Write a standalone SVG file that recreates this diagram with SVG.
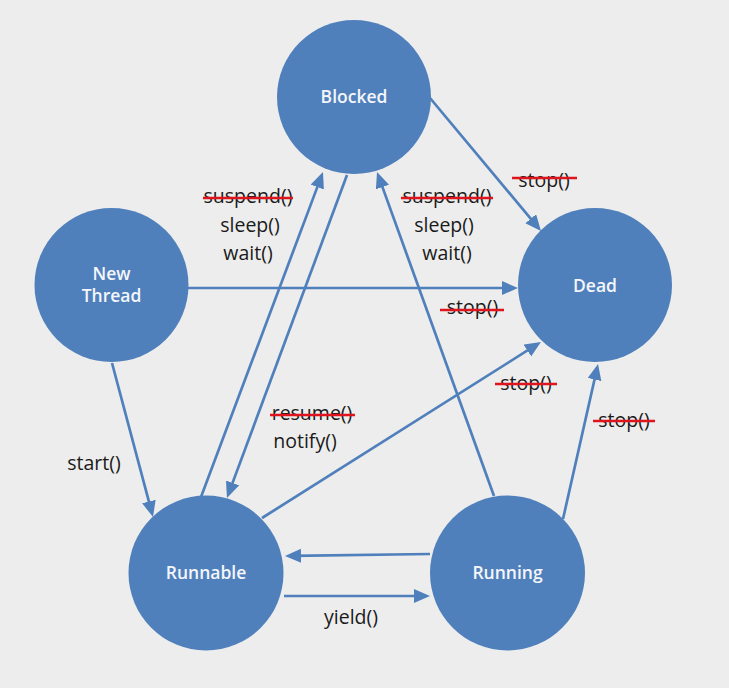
<svg xmlns="http://www.w3.org/2000/svg" width="729" height="688" viewBox="0 0 729 688">
<style>
.node{fill:#5080bc}
.nl{font-family:"Open Sans","Noto Sans",sans-serif;font-weight:600;font-size:17.5px;fill:#f4f6fa;text-anchor:middle}
.edge{stroke:#5080bc;stroke-width:2.7;fill:none;marker-end:url(#ah)}
.lb{font-family:"Open Sans","Noto Sans",sans-serif;font-size:19.5px;fill:#1a1a1a;text-anchor:middle}
.st{stroke:#e0141c;stroke-width:2.6}
</style>
<defs>
<marker id="ah" markerUnits="userSpaceOnUse" markerWidth="17" markerHeight="15" refX="9" refY="7" orient="auto">
<path d="M0,0 L16,7 L0,14 z" fill="#5080bc"/>
</marker>
</defs>
<rect width="729" height="688" fill="#ededed"/>
<g id="connectors">
<line class="edge" x1="430" y1="98" x2="536.5" y2="225.6"/>
<line class="edge" x1="188" y1="288" x2="511" y2="288"/>
<line class="edge" x1="262" y1="518" x2="535" y2="345.7"/>
<line class="edge" x1="563" y1="519" x2="596.5" y2="370.8"/>
<line class="edge" x1="112" y1="363" x2="151.2" y2="510.2"/>
<line class="edge" x1="201" y1="497" x2="320.5" y2="178.6"/>
<line class="edge" x1="347" y1="175" x2="229.4" y2="491.4"/>
<line class="edge" x1="494" y1="496" x2="379.4" y2="178.6"/>
<line class="edge" x1="430" y1="554" x2="292" y2="555.9"/>
<line class="edge" x1="284" y1="596" x2="423" y2="596"/>
</g>
<g id="node-blocked"><circle class="node" cx="354" cy="97" r="77"/><text class="nl" x="354" y="103">Blocked</text></g>
<g id="node-newthread"><circle class="node" cx="111.5" cy="285" r="77"/><text class="nl" x="111.5" y="280">New</text><text class="nl" x="111.5" y="302">Thread</text></g>
<g id="node-dead"><circle class="node" cx="595" cy="285" r="77"/><text class="nl" x="595" y="292">Dead</text></g>
<g id="node-runnable"><circle class="node" cx="206" cy="573" r="77.5"/><text class="nl" x="206" y="579">Runnable</text></g>
<g id="node-running"><circle class="node" cx="507.5" cy="573" r="77.5"/><text class="nl" x="507.5" y="579">Running</text></g>
<g id="labels">
<text class="lb" x="248" y="203">suspend()</text><line class="st" x1="203" y1="198" x2="293" y2="198"/>
<text class="lb" x="250" y="232">sleep()</text>
<text class="lb" x="248" y="260">wait()</text>
<text class="lb" x="447" y="203">suspend()</text><line class="st" x1="401" y1="198" x2="493" y2="198"/>
<text class="lb" x="444" y="232">sleep()</text>
<text class="lb" x="447" y="260">wait()</text>
<text class="lb" x="544" y="187">stop()</text><line class="st" x1="512" y1="178" x2="577" y2="178"/>
<text class="lb" x="472.5" y="314">stop()</text><line class="st" x1="440" y1="310" x2="504" y2="310"/>
<text class="lb" x="526" y="390">stop()</text><line class="st" x1="495" y1="384" x2="557" y2="384"/>
<text class="lb" x="624" y="427">stop()</text><line class="st" x1="593" y1="421" x2="655" y2="421"/>
<text class="lb" x="312" y="420">resume()</text><line class="st" x1="270" y1="415" x2="355" y2="415"/>
<text class="lb" x="305" y="448">notify()</text>
<text class="lb" x="94" y="470">start()</text>
<text class="lb" x="351" y="624">yield()</text>
</g>
</svg>
